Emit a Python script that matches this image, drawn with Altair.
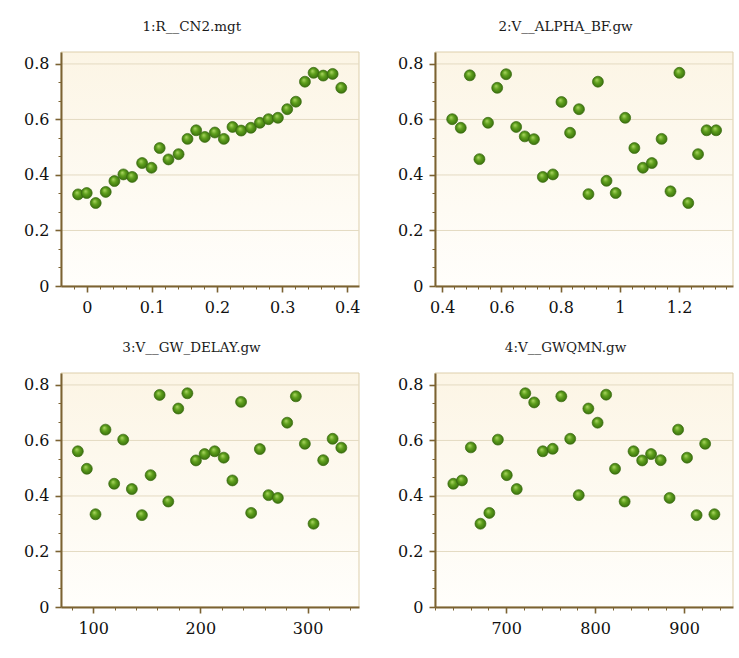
import altair as alt
import pandas as pd

# Sensitivity scatter: objective value vs. sampled parameter value, four parameters.
TITLES = ["1:R__CN2.mgt", "2:V__ALPHA_BF.gw", "3:V__GW_DELAY.gw", "4:V__GWQMN.gw"]

X1 = [-0.0133, 0.0, 0.0138, 0.0292, 0.0425, 0.0563, 0.0697, 0.085, 0.0994, 0.112,
      0.1255, 0.141, 0.1547, 0.168, 0.1813, 0.1967, 0.2105, 0.2238, 0.2371, 0.252,
      0.2658, 0.2791, 0.2935, 0.3078, 0.3211, 0.335, 0.3483, 0.3631, 0.3775, 0.3908]
Y1 = [0.330, 0.335, 0.299, 0.339, 0.378, 0.402, 0.393, 0.443, 0.426, 0.497,
      0.456, 0.475, 0.530, 0.561, 0.537, 0.553, 0.530, 0.573, 0.560, 0.570,
      0.588, 0.601, 0.606, 0.637, 0.664, 0.736, 0.768, 0.758, 0.764, 0.714]

X2 = [0.434, 0.463, 0.4935, 0.526, 0.555, 0.586, 0.616, 0.650, 0.679, 0.710,
      0.740, 0.774, 0.803, 0.832, 0.862, 0.894, 0.926, 0.955, 0.986, 1.018,
      1.049, 1.078, 1.108, 1.141, 1.171, 1.201, 1.231, 1.264, 1.293, 1.325]
Y2 = [0.601, 0.570, 0.759, 0.457, 0.588, 0.714, 0.763, 0.573, 0.539, 0.529,
      0.393, 0.402, 0.663, 0.552, 0.637, 0.331, 0.736, 0.379, 0.335, 0.606,
      0.497, 0.426, 0.443, 0.530, 0.341, 0.768, 0.299, 0.475, 0.561, 0.561]

X3 = [85.7, 94.1, 102.2, 111.5, 119.6, 128.0, 136.1, 145.5, 153.6, 162.0,
      170.1, 179.4, 187.9, 195.9, 204.0, 213.4, 221.8, 229.9, 238.0, 247.4,
      255.5, 263.6, 272.3, 281.0, 289.1, 297.5, 305.6, 314.6, 323.4, 331.5]
Y3 = [0.561, 0.498, 0.334, 0.639, 0.444, 0.603, 0.425, 0.331, 0.475, 0.764,
      0.380, 0.715, 0.770, 0.528, 0.551, 0.561, 0.538, 0.456, 0.739, 0.339,
      0.569, 0.403, 0.393, 0.664, 0.759, 0.588, 0.300, 0.529, 0.606, 0.574]

X4 = [640.6, 650.3, 660.3, 671.1, 681.1, 690.7, 700.7, 711.9, 721.5, 731.5,
      741.2, 752.3, 762.0, 772.0, 781.6, 792.4, 802.8, 812.4, 822.4, 833.2,
      843.2, 852.9, 862.9, 873.7, 883.7, 893.3, 903.3, 914.1, 923.7, 934.1]
Y4 = [0.444, 0.456, 0.575, 0.300, 0.339, 0.603, 0.475, 0.425, 0.770, 0.737,
      0.561, 0.570, 0.759, 0.606, 0.403, 0.715, 0.664, 0.765, 0.498, 0.380,
      0.561, 0.528, 0.551, 0.529, 0.393, 0.639, 0.538, 0.331, 0.588, 0.334]

# axis ranges, labelled ticks and minor tick spacing
X_DOMAINS = [[-0.0395, 0.418], [0.376, 1.382], [70, 348], [620, 955]]
X_MAJOR = [[0, 0.1, 0.2, 0.3, 0.4], [0.4, 0.6, 0.8, 1, 1.2], [100, 200, 300], [700, 800, 900]]
X_MINOR_STEP = [0.02, 0.04, 20, 20]
Y_DOMAIN = [0, 0.843]
Y_MAJOR = [0, 0.2, 0.4, 0.6, 0.8]
Y_GRID = [0.2, 0.4, 0.6, 0.8]
Y_MINOR_STEP = 0.2 / 3

W, H = 298, 234
FONT = "DejaVu Serif"
AXIS_BROWN = "#7b6232"


def tick_values(domain, step):
    lo, hi = domain
    k = int(-(-lo // step))
    vals = []
    while k * step <= hi + 1e-9:
        vals.append(round(k * step, 6))
        k += 1
    return vals


def make_axis(values, majors, pad):
    test = f"indexof({majors}, datum.value) >= 0"
    return alt.Axis(
        values=values,
        title=None,
        grid=False,
        zindex=1,
        domainColor=AXIS_BROWN,
        domainWidth=2,
        tickColor=AXIS_BROWN,
        tickSize={"condition": {"test": test, "value": 6}, "value": 3},
        tickWidth={"condition": {"test": test, "value": 1.6}, "value": 1},
        labelExpr=f"{test} ? format(datum.value, '~g') : ''",
        labelFont=FONT,
        labelFontSize=16,
        labelColor="#111111",
        labelPadding=pad,
        labelFlush=False,
        labelOverlap=False,
    )


# plot background: warm cream at the top fading to near white at the bottom
bg_fill = alt.LinearGradient(
    gradient="linear",
    stops=[alt.GradientStop(offset=0, color="#fcf5e5"),
           alt.GradientStop(offset=1, color="#fffefb")],
    x1=0, x2=0, y1=0, y2=1,
)

ball_fill = alt.RadialGradient(
    gradient="radial",
    stops=[alt.GradientStop(offset=0, color="#b0da66"),
           alt.GradientStop(offset=0.45, color="#5e9f1c"),
           alt.GradientStop(offset=1, color="#356a0c")],
    x1=0.38, y1=0.32, r1=0, x2=0.5, y2=0.5, r2=0.55,
)

y_ticks = [round(k * Y_MINOR_STEP, 6) for k in range(0, 13)]
y_axis = make_axis(y_ticks, Y_MAJOR, 6)
y_scale = alt.Scale(domain=Y_DOMAIN, nice=False, zero=False)


def panel(i, xs, ys):
    x_ticks = tick_values(X_DOMAINS[i], X_MINOR_STEP[i])
    x_axis = make_axis(x_ticks, X_MAJOR[i], 7)
    x_scale = alt.Scale(domain=X_DOMAINS[i], nice=False, zero=False)

    frame = alt.Chart(alt.Data(values=[{"a": 1}])).mark_rect(
        fill=bg_fill, stroke="#ddcfac", strokeWidth=1
    ).encode(x=alt.value(0), x2=alt.value(W), y=alt.value(0), y2=alt.value(H))

    grid = alt.Chart(pd.DataFrame({"y": Y_GRID})).mark_rule(
        color="#e4dac2", strokeWidth=1
    ).encode(y=alt.Y("y:Q", scale=y_scale, axis=y_axis))

    pts = alt.Chart(pd.DataFrame({"x": xs, "y": ys})).mark_point(
        shape="circle", filled=True, size=120, fill=ball_fill,
        stroke="#3a6a10", strokeWidth=0.7, opacity=1
    ).encode(
        x=alt.X("x:Q", scale=x_scale, axis=x_axis),
        y=alt.Y("y:Q", scale=y_scale, axis=y_axis),
    )

    return alt.layer(frame, grid, pts).properties(
        width=W, height=H,
        title=alt.TitleParams(
            text=TITLES[i], font=FONT, fontSize=13.5, fontWeight="normal",
            color="#1a1a1a", anchor="middle", frame="bounds", offset=18,
        ),
    )


p1 = panel(0, X1, Y1)
p2 = panel(1, X2, Y2)
p3 = panel(2, X3, Y3)
p4 = panel(3, X4, Y4)

chart = alt.vconcat(
    alt.hconcat(p1, p2, spacing=37),
    alt.hconcat(p3, p4, spacing=37),
    spacing=26,
).properties(
    padding={"left": 23, "top": 20, "right": 5, "bottom": 5},
    background="white",
).configure_view(stroke=None)

chart.save("out.html", embed_options={"renderer": "svg", "actions": False})
